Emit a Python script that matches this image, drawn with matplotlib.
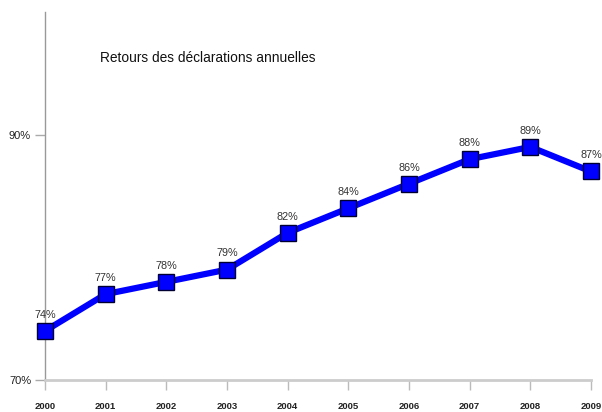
import matplotlib.pyplot as plt

plt.rcParams['font.family'] = ['Liberation Sans', 'DejaVu Sans']

years = [2000, 2001, 2002, 2003, 2004, 2005, 2006, 2007, 2008, 2009]
taux = [74, 77, 78, 79, 82, 84, 86, 88, 89, 87]
titre = "Retours des déclarations annuelles"

fig = plt.figure(figsize=(6.02, 4.12), dpi=100)
ax = fig.add_axes([45/602, 1-380/412, (591-45)/602, (380-12)/412])

ax.plot(years, taux, color='#0000ff', lw=4.5, marker='s', ms=11,
        mfc='#0000ff', mec='#000033', mew=1, clip_on=False, zorder=3)
for x, y in zip(years, taux):
    ax.annotate(f"{y}%", (x, y), xytext=(0, 8), textcoords='offset points',
                ha='center', va='bottom', fontsize=7.8, color='#333333')

ax.set_xlim(2000, 2009)
ax.set_ylim(70, 100)
ax.set_xticks(years)
ax.set_xticklabels([str(y) for y in years], fontsize=6.8, fontweight='bold', color='#222222')
ax.set_yticks([70, 90])
ax.set_yticklabels(['70%', '90%'], fontsize=8, color='#222222')

for s in ['top', 'right']:
    ax.spines[s].set_visible(False)
ax.spines['left'].set_color('#999999')
ax.spines['left'].set_linewidth(1)
ax.spines['bottom'].set_color('#cccccc')
ax.spines['bottom'].set_linewidth(2)
ax.tick_params(axis='x', length=7, width=1, color='#bbbbbb', pad=9)
ax.tick_params(axis='y', length=7, width=1, color='#aaaaaa', pad=3)

fig.text(100/602, 1-58/412, titre, fontsize=9.9, va='center', ha='left', color='#111111')

fig.savefig("out.png", dpi=100)
